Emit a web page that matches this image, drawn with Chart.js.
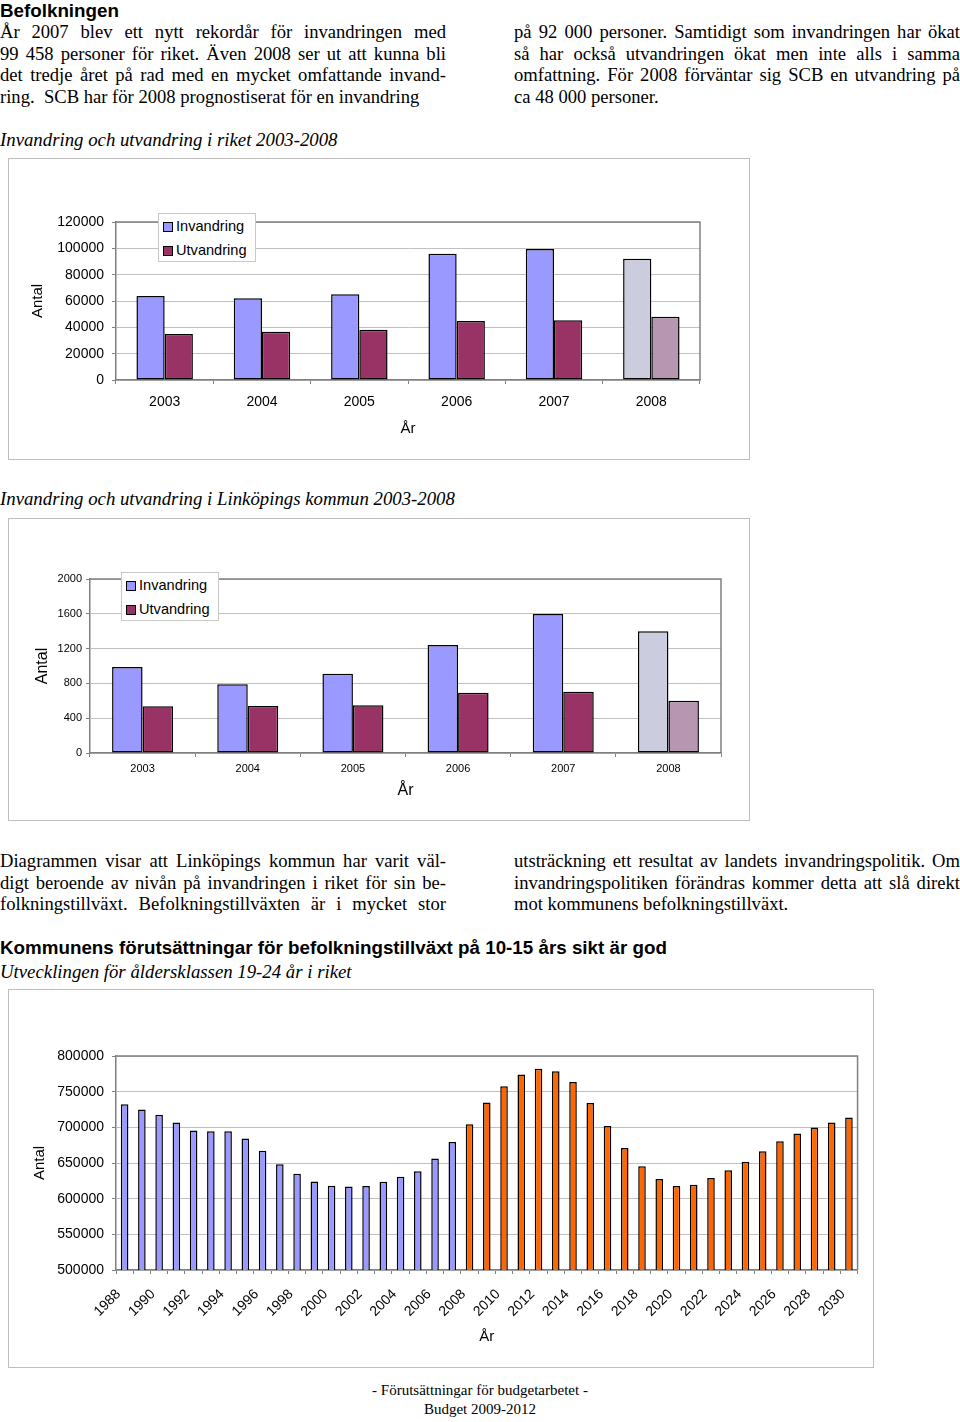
<!DOCTYPE html>
<html lang="sv">
<head>
<meta charset="utf-8">
<title>Befolkningen</title>
<script src="https://cdn.jsdelivr.net/npm/chart.js@4.4.1/dist/chart.umd.min.js"></script>
<style>
  html, body { margin: 0; padding: 0; background: #fff; }
  body { position: relative; width: 960px; height: 1422px; overflow: hidden; color: #000; }
  .abs { position: absolute; }
  .h { font-family: "Liberation Sans", Arial, sans-serif; font-weight: bold; font-size: 18.8px; line-height: 22px; white-space: nowrap; }
  .cap { font-family: "Liberation Serif", "Times New Roman", serif; font-style: italic; font-size: 18.8px; line-height: 22px; white-space: nowrap; }
  .col { font-family: "Liberation Serif", "Times New Roman", serif; font-size: 18.6px; line-height: 21.7px; width: 446px; }
  .col div { white-space: nowrap; }
  .col .j { text-align: justify; text-align-last: justify; }
  .box { position: absolute; border: 1px solid #bdbdbd; box-sizing: border-box; }
  .box canvas { position: absolute; left: 0; top: 0; }
  .legend { position: absolute; background: #fff; border: 1px solid #c8c8c8; box-sizing: border-box;
            font-family: "Liberation Sans", Arial, sans-serif; font-size: 14.6px; }
  .legend .item { position: absolute; left: 4px; height: 16px; line-height: 16px; white-space: nowrap; }
  .legend .sw { display: inline-block; width: 10px; height: 10px; border: 1px solid #000; box-sizing: border-box;
                vertical-align: -1px; margin-right: 3px; }
  .foot { font-family: "Liberation Serif", "Times New Roman", serif; font-size: 15px; line-height: 19px; text-align: center; width: 960px; left: 0; }
</style>
</head>
<body>

<div class="abs h" style="left:0;top:0;">Befolkningen</div>
<div class="abs col" style="left:0;top:21px;">
  <div class="j">År 2007 blev ett nytt rekordår för invandringen med</div>
  <div class="j">99 458 personer för riket. Även 2008 ser ut att kunna bli</div>
  <div class="j">det tredje året på rad med en mycket omfattande invand-</div>
  <div>ring.&nbsp; SCB har för 2008 prognostiserat för en invandring</div>
</div>
<div class="abs col" style="left:514px;top:21px;">
  <div class="j">på 92 000 personer. Samtidigt som invandringen har ökat</div>
  <div class="j">så har också utvandringen ökat men inte alls i samma</div>
  <div class="j">omfattning. För 2008 förväntar sig SCB en utvandring på</div>
  <div>ca 48 000 personer.</div>
</div>

<div class="abs cap" style="left:0;top:129px;">Invandring och utvandring i riket 2003-2008</div>
<div class="box" style="left:8px;top:158px;width:742px;height:302px;"><canvas id="chart-riket" width="740" height="300"></canvas></div>
<div class="legend" id="legend-riket" style="left:158px;top:213px;width:98px;height:49px;"></div>

<div class="abs cap" style="left:0;top:488px;">Invandring och utvandring i Linköpings kommun 2003-2008</div>
<div class="box" style="left:8px;top:518px;width:742px;height:303px;"><canvas id="chart-linkoping" width="740" height="301"></canvas></div>
<div class="legend" id="legend-linkoping" style="left:121px;top:572px;width:98px;height:49px;"></div>

<div class="abs col" style="left:0;top:850px;">
  <div class="j">Diagrammen visar att Linköpings kommun har varit väl-</div>
  <div class="j">digt beroende av nivån på invandringen i riket för sin be-</div>
  <div class="j">folkningstillväxt. Befolkningstillväxten är i mycket stor</div>
</div>
<div class="abs col" style="left:514px;top:850px;">
  <div class="j">utsträckning ett resultat av landets invandringspolitik. Om</div>
  <div class="j">invandringspolitiken förändras kommer detta att slå direkt</div>
  <div>mot kommunens befolkningstillväxt.</div>
</div>

<div class="abs h" style="left:0;top:937px;">Kommunens förutsättningar för befolkningstillväxt på 10-15 års sikt är god</div>
<div class="abs cap" style="left:0;top:961px;">Utvecklingen för åldersklassen 19-24 år i riket</div>
<div class="box" style="left:8px;top:989px;width:866px;height:379px;"><canvas id="chart-alder" width="864" height="377"></canvas></div>

<div class="abs foot" style="top:1381px;">- Förutsättningar för budgetarbetet -<br>Budget 2009-2012</div>

<script>
// --- DATA ---
const yearsMigration = ['2003', '2004', '2005', '2006', '2007', '2008'];
const riketInvandring = [63800, 62000, 65200, 95800, 99500, 92000];
const riketUtvandring = [35000, 36600, 38100, 44900, 45400, 48000];
const linkopingInvandring = [988, 789, 912, 1241, 1598, 1400];
const linkopingUtvandring = [536, 540, 548, 693, 705, 600];
const migrationLabels = ['Invandring', 'Utvandring'];
const forecastYear = '2008';

const yearsAge = ['1988', '1989', '1990', '1991', '1992', '1993', '1994', '1995', '1996', '1997',
                  '1998', '1999', '2000', '2001', '2002', '2003', '2004', '2005', '2006', '2007',
                  '2008', '2009', '2010', '2011', '2012', '2013', '2014', '2015', '2016', '2017',
                  '2018', '2019', '2020', '2021', '2022', '2023', '2024', '2025', '2026', '2027',
                  '2028', '2029', '2030'];
const age19to24 = [732500, 725000, 717500, 706800, 695500, 694600, 694600, 684300, 667000, 648400,
                   634800, 624100, 618000, 617100, 617600, 623600, 630600, 638600, 656300, 679600,
                   704400, 734700, 757500, 773900, 782300, 778500, 763600, 734200, 702000, 671200,
                   645600, 627400, 617600, 619400, 628800, 640000, 651600, 666600, 680600, 691300,
                   699700, 706700, 713700];

// --- FÄRGER ---
const COL_IN = '#9999ff', COL_IN_PROG = '#ccccdf';
const COL_UT = '#993366', COL_UT_PROG = '#b696b0';
const COL_HIST = '#9999ff', COL_PROG = '#ff6600';
const FONT = '"Liberation Sans", Arial, sans-serif';

Chart.defaults.color = '#000';
Chart.defaults.font.family = FONT;

// plot-area ram (överkant + höger) som i Excel
const plotFrame = {
    id: 'plotFrame',
    beforeDatasetsDraw(chart) {
        const { ctx, chartArea: a } = chart;
        ctx.save();
        ctx.strokeStyle = '#808080';
        ctx.lineWidth = 1.5;
        ctx.beginPath();
        ctx.moveTo(a.left, a.top);
        ctx.lineTo(a.right, a.top);
        ctx.lineTo(a.right, a.bottom);
        ctx.stroke();
        ctx.restore();
    }
};

function yearColors(years, normal, forecast) {
    return years.map(y => (Number(y) >= Number(forecastYear) ? forecast : normal));
}

function buildLegend(id, colors) {
    const el = document.getElementById(id);
    migrationLabels.forEach((label, i) => {
        const item = document.createElement('div');
        item.className = 'item';
        item.style.top = (i === 0 ? 4 : 28) + 'px';
        item.innerHTML = `<span class="sw" style="background:${colors[i]}"></span>${label}`;
        el.appendChild(item);
    });
}

function migrationChart(canvasId, inv, utv, opt) {
    const ctx = document.getElementById(canvasId).getContext('2d');
    return new Chart(ctx, {
        type: 'bar',
        data: {
            labels: yearsMigration,
            datasets: [
                { label: migrationLabels[0], data: inv, backgroundColor: yearColors(yearsMigration, COL_IN, COL_IN_PROG),
                  borderColor: '#000', borderWidth: 1.5, borderSkipped: false },
                { label: migrationLabels[1], data: utv, backgroundColor: yearColors(yearsMigration, COL_UT, COL_UT_PROG),
                  borderColor: '#000', borderWidth: 1.5, borderSkipped: false }
            ]
        },
        options: {
            responsive: false,
            animation: false,
            categoryPercentage: 0.58,
            barPercentage: 1,
            layout: { padding: { top: opt.top, right: opt.right, left: 0, bottom: 0 } },
            plugins: { legend: { display: false }, tooltip: { enabled: false } },
            scales: {
                x: {
                    afterFit: s => { s.height = opt.xHeight; },
                    grid: { drawOnChartArea: false, drawTicks: true, tickLength: 4, tickColor: '#808080', offset: true },
                    border: { color: '#808080', width: 1.5 },
                    ticks: { font: { size: opt.tickSize }, padding: opt.xPad, maxRotation: 0 },
                    title: { display: true, text: 'År', font: { size: opt.titleSize }, padding: { top: 0, bottom: opt.xTitlePad } }
                },
                y: {
                    min: 0, max: opt.max,
                    afterFit: s => { s.width = opt.yWidth; },
                    grid: { color: '#c0c0c0', tickLength: 4, tickColor: '#808080' },
                    border: { color: '#808080', width: 1.5 },
                    ticks: { stepSize: opt.step, font: { size: opt.tickSize }, padding: opt.yPad, callback: v => String(v) },
                    title: { display: true, text: 'Antal', font: { size: opt.titleSize }, padding: { top: opt.yTitlePad, bottom: 0 } }
                }
            }
        },
        plugins: [plotFrame]
    });
}

function ageChart() {
    const ctx = document.getElementById('chart-alder').getContext('2d');
    return new Chart(ctx, {
        type: 'bar',
        data: {
            labels: yearsAge,
            datasets: [{
                label: 'Antal 19-24 år',
                data: age19to24,
                backgroundColor: yearColors(yearsAge, COL_HIST, COL_PROG),
                borderColor: '#000', borderWidth: 1.5, borderSkipped: false
            }]
        },
        options: {
            responsive: false,
            animation: false,
            categoryPercentage: 1,
            barPercentage: 0.44,
            layout: { padding: { top: 66, right: 15, left: 0, bottom: 0 } },
            plugins: { legend: { display: false }, tooltip: { enabled: false } },
            scales: {
                x: {
                    afterFit: s => { s.height = 97; },
                    grid: { drawOnChartArea: false, drawTicks: true, tickLength: 4, tickColor: '#808080', offset: true },
                    border: { color: '#808080', width: 1.5 },
                    ticks: {
                        font: { size: 14 }, padding: 12, labelOffset: -6, autoSkip: false, minRotation: 45, maxRotation: 45,
                        callback: (v, i) => (i % 2 === 0 ? yearsAge[i] : '')
                    },
                    title: { display: true, text: 'År', font: { size: 15 }, padding: { top: 0, bottom: 21 } }
                },
                y: {
                    min: 500000, max: 800000,
                    afterFit: s => { s.width = 107; },
                    grid: { color: '#c0c0c0', tickLength: 4, tickColor: '#808080' },
                    border: { color: '#808080', width: 1.5 },
                    ticks: { stepSize: 50000, font: { size: 14 }, padding: 8, callback: v => String(v) },
                    title: { display: true, text: 'Antal', font: { size: 15 }, padding: { top: 22, bottom: 0 } }
                }
            }
        },
        plugins: [plotFrame]
    });
}

document.addEventListener('DOMContentLoaded', () => {
    migrationChart('chart-riket', riketInvandring, riketUtvandring, {
        max: 120000, step: 20000, top: 63, right: 49, yWidth: 107, xHeight: 79, yPad: 8,
        tickSize: 14, titleSize: 15, xPad: 10, xTitlePad: 21, yTitlePad: 20
    });
    migrationChart('chart-linkoping', linkopingInvandring, linkopingUtvandring, {
        max: 2000, step: 400, top: 60, right: 28, yWidth: 81, xHeight: 67, yPad: 4,
        tickSize: 11, titleSize: 16, xPad: 5, xTitlePad: 20, yTitlePad: 24
    });
    ageChart();
    buildLegend('legend-riket', [COL_IN, COL_UT]);
    buildLegend('legend-linkoping', [COL_IN, COL_UT]);
});
</script>
</body>
</html>
